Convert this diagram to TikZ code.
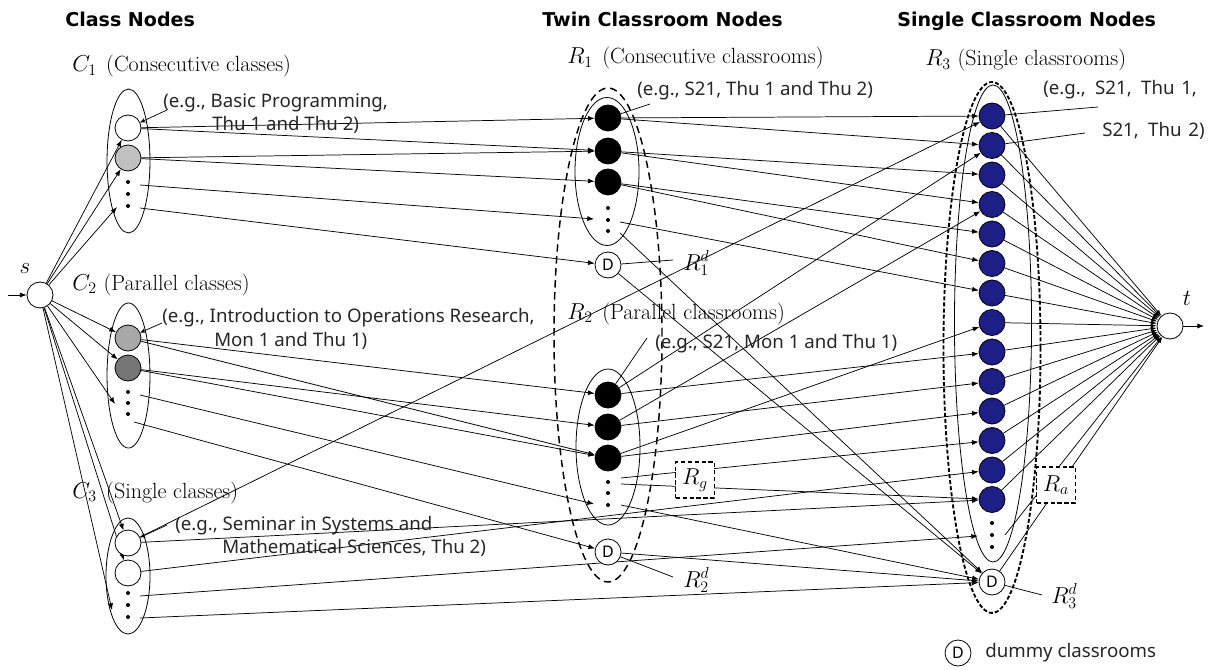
\documentclass[tikz,border=0pt]{standalone}
\usepackage{fontspec}
\setsansfont{Noto Sans}
\newfontfamily\headfont{DejaVu Sans}
\usetikzlibrary{arrows.meta}
\pgfdeclarelayer{background}
\pgfsetlayers{background,main}

\definecolor{roomblue}{RGB}{30,30,135}
\definecolor{classgrayA}{RGB}{192,192,192}
\definecolor{classgrayB}{RGB}{168,168,168}
\definecolor{classgrayC}{RGB}{118,118,118}

\begin{document}
\begin{tikzpicture}[x=0.75pt,y=-0.75pt,
  nd/.style={circle,draw,line width=0.6pt,minimum size=19.5pt,inner sep=0pt},
  whitenode/.style={nd,fill=white},
  blacknode/.style={nd,fill=black},
  bluenode/.style={nd,fill=roomblue},
  dummy/.style={nd,fill=white,font=\sffamily\fontsize{12}{12}\selectfont},
  dotmark/.style={circle,fill=black,inner sep=0pt,minimum size=3pt},
  flow/.style={line width=0.55pt,-{Latex[length=5pt,width=3.8pt]}},
  sinkflow/.style={line width=0.55pt,-{Latex[length=4.5pt,width=3.2pt]}},
  pointer/.style={line width=0.55pt},
  tagline/.style={line width=0.55pt,-{Stealth[length=4pt,width=3.5pt,open]}},
  grp/.style={line width=0.6pt},
  grpdash/.style={line width=1.1pt,dash pattern=on 5.5pt off 3.5pt},
  grpdashfine/.style={line width=1.4pt,dash pattern=on 3pt off 1.6pt},
  lbl/.style={inner sep=0pt,font=\fontsize{16.5}{19}\selectfont},
  eg/.style={inner sep=0pt,font=\sffamily\fontsize{14}{16}\selectfont,text=black!85},
  head/.style={inner sep=0pt,font=\headfont\bfseries\fontsize{14.3}{17}\selectfont},
  labelbox/.style={draw,fill=white,line width=1.2pt,dash pattern=on 3.2pt off 2pt,
    minimum width=29pt,minimum height=27pt,inner sep=0pt,font=\fontsize{16.5}{19}\selectfont}
]
\useasboundingbox (0,0) rectangle (1226,670);

% ---------- source and sink ----------
\node[whitenode] (s) at (40,295) {};
\node[whitenode] (t) at (1170,326) {};
\coordinate (sin) at (8,295);
\coordinate (tout) at (1204,326);
\node[lbl] at (25,269) {$s$};
\node[lbl] at (1187,298) {$t$};

% ---------- class nodes ----------
\node[whitenode] (c11) at (128,128) {};
\node[nd,fill=classgrayA] (c12) at (128,158) {};
\foreach \y in {182,194,206} \node[dotmark] at (128,\y) {};
\coordinate (c1in) at (117,207);
\coordinate (c1o1) at (140,185);
\coordinate (c1o2) at (140,208);

\node[nd,fill=classgrayB] (c21) at (128,338) {};
\node[nd,fill=classgrayC] (c22) at (128,368) {};
\foreach \y in {392,403,414} \node[dotmark] at (128,\y) {};
\coordinate (c2in) at (115,404);
\coordinate (c2o1) at (140,395);
\coordinate (c2o2) at (134,422);

\node[whitenode] (c31) at (128,543) {};
\node[whitenode] (c32) at (128,573) {};
\foreach \y in {593,605,617} \node[dotmark] at (128,\y) {};
\coordinate (c3in) at (112,610);
\coordinate (c3o1) at (140,596);
\coordinate (c3o2) at (140,618);

% ---------- twin classroom nodes ----------
\node[blacknode] (r11) at (608,118) {};
\node[blacknode] (r12) at (608,151) {};
\node[blacknode] (r13) at (608,182) {};
\foreach \y in {208,220,231} \node[dotmark] at (608,\y) {};
\node[dummy] (r1d) at (608,265) {D};
\coordinate (r1in) at (594,219);
\coordinate (r1o1) at (620,222);
\coordinate (r1o2) at (620,233);

\node[blacknode] (r21) at (608,395) {};
\node[blacknode] (r22) at (608,427) {};
\node[blacknode] (r23) at (608,458) {};
\foreach \y in {482,493,505} \node[dotmark] at (608,\y) {};
\node[dummy] (r2d) at (608,552) {D};
\coordinate (r2in) at (594,504);
\coordinate (r2o1) at (621,478);
\coordinate (r2o2) at (621,484);
\coordinate (r2o3) at (621,505);

% ---------- single classroom nodes ----------
\foreach \k in {1,...,14}
  \node[bluenode] (n\k) at (992,{116+29.5*(\k-1)}) {};
\foreach \y in {523,535,547} \node[dotmark] at (992,\y) {};
\node[dummy] (r3d) at (992,582) {D};
\coordinate (r3in) at (978,536);
\coordinate (r3o) at (1005,535);

% ---------- annotation anchors ----------
\coordinate (pc1) at (167,110);
\coordinate (pc2) at (162,323);
\coordinate (pc3) at (167,525);
\coordinate (pr1) at (650,104);
\coordinate (pr1d) at (673,260);
\coordinate (pr2) at (647,338);
\coordinate (pr2d) at (673,577);
\coordinate (pn1) at (1098,107);
\coordinate (pn2) at (1085,133);
\coordinate (pr3d) at (1042,595);

\begin{pgfonlayer}{background}
  % groups
  \draw[grp] (128.5,161) ellipse [x radius=16.1pt, y radius=54pt];
  \draw[grp] (128.5,375.5) ellipse [x radius=16.1pt, y radius=54.4pt];
  \draw[grp] (128,576) ellipse [x radius=16.5pt, y radius=43.5pt];
  \draw[grp] (607,171.5) ellipse [x radius=24pt, y radius=55.5pt];
  \draw[grp] (608,447) ellipse [x radius=24pt, y radius=58.5pt];
  \draw[grpdash] (608,335) ellipse [x radius=40.5pt, y radius=185.25pt];
  \draw[grp] (993,323.5) ellipse [x radius=28.9pt, y radius=178.9pt];
  \draw[grpdashfine] (992,347.5) ellipse [x radius=36.4pt, y radius=199.1pt];

  % source arcs
  \draw[flow] (sin) -- (s);
  \foreach \x in {c11,c12,c1in,c21,c22,c2in,c31,c32,c3in}
    \draw[flow] (s) -- (\x);

  % class -> classroom arcs
  \draw[flow] (c11) -- (r11);
  \draw[flow] (c11) -- (r12);
  \draw[flow] (c12) -- (r12);
  \draw[flow] (c12) -- (r13);
  \draw[flow] (c1o1) -- (r1in);
  \draw[flow] (c1o2) -- (r1d);

  \draw[flow] (c21) -- (r21);
  \draw[flow] (c21) -- (r23);
  \draw[flow] (c22) -- (r22);
  \draw[flow] (c22) -- (r23);
  \draw[flow] (c2o1) -- (r2in);
  \draw[flow] (c2o2) -- (r2d);

  \draw[flow] (c31) -- (n1);
  \draw[flow] (c31) -- (n14);
  \draw[flow] (c32) -- (n13);
  \draw[flow] (c3o1) -- (r3in);
  \draw[flow] (c3o2) -- (r3d);

  % twin -> single classroom arcs
  \draw[flow] (r11) -- (n1);
  \draw[flow] (r11) -- (n2);
  \draw[flow] (r12) -- (n3);
  \draw[flow] (r12) -- (n4);
  \draw[flow] (r13) -- (n5);
  \draw[flow] (r13) -- (n6);
  \draw[flow] (r1o1) -- (n7);
  \draw[flow] (r1o2) -- (r3d);
  \draw[flow] (r1d) -- (r3d);

  \draw[flow] (r21) -- (n2);
  \draw[flow] (r21) -- (n9);
  \draw[flow] (r22) -- (n4);
  \draw[flow] (r22) -- (n10);
  \draw[flow] (r23) -- (n8);
  \draw[flow] (r23) -- (n11);
  \draw[flow] (r2o1) -- (n12);
  \draw[flow] (r2o2) -- (n14);
  \draw[flow] (r2o3) -- (r3d);
  \draw[flow] (r2d) -- (r3d);

  % single classroom -> sink arcs
  \foreach \k in {1,...,14} \draw[sinkflow] (n\k) -- (t);
  \draw[sinkflow] (r3o) -- (t);
  \draw[sinkflow] (r3d) -- (t);
  \draw[flow] (t) -- (tout);

  % annotation leaders
  \draw[tagline] (pc1) -- (c11);
  \draw[tagline] (pc2) -- (c21);
  \draw[tagline] (pc3) -- (c31);
  \draw[pointer] (pr1) -- (r11);
  \draw[pointer] (pr1d) -- (r1d);
  \draw[pointer] (pr2) -- (r21);
  \draw[pointer] (pr2d) -- (r2d);
  \draw[pointer] (pn1) -- (n1);
  \draw[pointer] (pn2) -- (n2);
  \draw[pointer] (pr3d) -- (r3d);
\end{pgfonlayer}

% ---------- arc-set tags ----------
\node[labelbox] (rg) at (695,480) {$R_g$};
\node[labelbox] (ra) at (1056,485) {$R_a$};

% ---------- headings ----------
\node[head,anchor=base west] at (65,27) {Class Nodes};
\node[head,anchor=base west] at (542,27) {Twin Classroom Nodes};
\node[head,anchor=base west] at (897,27) {Single Classroom Nodes};

% ---------- group labels ----------
\node[lbl,anchor=base west] at (72,72) {$C_1$\hspace{7pt}(Consecutive classes)};
\node[eg,anchor=base west] at (163,108) {(e.g., Basic Programming,};
\node[eg,anchor=base west] at (212,131) {Thu 1 and Thu 2)};

\node[lbl,anchor=base west] at (72,290) {$C_2$\hspace{5pt}(Parallel classes)};
\node[eg,anchor=base west] at (162,322) {(e.g., Introduction to Operations Research,};
\node[eg,anchor=base west] at (214,346) {Mon 1 and Thu 1)};

\node[lbl,anchor=base west] at (72,498) {$C_3$\hspace{7pt}(Single classes)};
\node[eg,anchor=base west] at (175,530) {(e.g., Seminar in Systems and};
\node[eg,anchor=base west] at (222,553) {Mathematical Sciences, Thu 2)};

\node[lbl,anchor=base west] at (567,64) {$R_1$\hspace{7pt}(Consecutive classrooms)};
\node[eg,anchor=base west] at (637,96) {(e.g., S21, Thu 1 and Thu 2)};
\node[lbl,anchor=base west] at (683,270) {$R_1^d$};

\node[lbl,anchor=base west] at (567,319) {$R_2$\hspace{7pt}(Parallel classrooms)};
\node[eg,anchor=base west] at (655,348) {(e.g., S21, Mon 1 and Thu 1)};
\node[lbl,anchor=base west] at (683,587) {$R_2^d$};

\node[lbl,anchor=base west] at (925,66) {$R_3$\hspace{5pt}(Single classrooms)};
\node[eg,anchor=base west] at (1043,95) {(e.g.,\hspace{7pt}S21,\hspace{7pt}Thu\hspace{5pt}1,};
\node[eg,anchor=base west] at (1102,137) {S21,\hspace{7pt}Thu\hspace{5pt}2)};
\node[lbl,anchor=base west] at (1051,603) {$R_3^d$};

% ---------- legend ----------
\node[dummy] (legd) at (958,653) {D};
\node[eg,anchor=west] at (985,653) {dummy classrooms};
\end{tikzpicture}
\end{document}
